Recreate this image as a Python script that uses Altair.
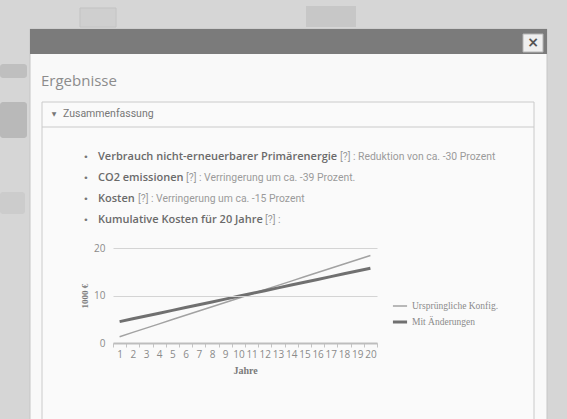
import altair as alt
import pandas as pd

# ---------------- data ----------------
years = ["1", "2", "3", "4", "5", "6", "7", "8", "9", "10",
         "11", "12", "13", "14", "15", "16", "17", "18", "19", "20"]
orig_costs = [1.33, 2.23, 3.13, 4.03, 4.93, 5.83, 6.73, 7.63, 8.53, 9.43,
              10.33, 11.23, 12.13, 13.03, 13.93, 14.83, 15.73, 16.63, 17.53, 18.43]
new_costs = [4.50, 5.09, 5.68, 6.28, 6.87, 7.46, 8.05, 8.64, 9.24, 9.83,
             10.42, 11.01, 11.60, 12.20, 12.79, 13.38, 13.97, 14.56, 15.16, 15.75]
series_names = ["Ursprüngliche Konfig.", "Mit Änderungen"]
y_ticks = [0, 10, 20]

bullet_bold = ["Verbrauch nicht-erneuerbarer Primärenergie", "CO2 emissionen",
               "Kosten", "Kumulative Kosten für 20 Jahre"]
bullet_rest = ["[?] : Reduktion von ca. -30 Prozent",
               "[?] : Verringerung um ca. -39 Prozent.",
               "[?] : Verringerung um ca. -15 Prozent",
               "[?] :"]
page_title = "Ergebnisse"
section_title = "Zusammenfassung"
x_title = "Jahre"
y_title = "1000 €"

df = pd.DataFrame({
    "Jahr": years * 2,
    "Wert": orig_costs + new_costs,
    "Serie": [series_names[0]] * len(years) + [series_names[1]] * len(years),
})

# ---------------- layout (page pixels) ----------------
OX, OY = 113, 248          # plot origin on the page
PW, PH = 264, 95           # plot size
W, H = 567, 419
NARROW = "Roboto, 'DejaVu Sans Condensed', sans-serif"


def rx(x):
    return x - OX


def ry(y):
    return y - OY


one = pd.DataFrame({"d": [0]})


def rect(x1, y1, x2, y2, **kw):
    return alt.Chart(one).mark_rect(**kw).encode(
        x=alt.value(rx(x1)), x2=alt.value(rx(x2)),
        y=alt.value(ry(y1)), y2=alt.value(ry(y2)))


def text(s, x, y, **kw):
    return alt.Chart(one).mark_text(text=s, **kw).encode(
        x=alt.value(rx(x)), y=alt.value(ry(y)))


deco = [
    # faint background shapes behind the dialog
    rect(0, 64, 27, 78, fill="#a8a8a8", opacity=0.5, cornerRadius=3),
    rect(0, 102, 27, 138, fill="#9c9c9c", opacity=0.5, cornerRadius=3),
    rect(0, 192, 25, 214, fill="#c4c4c4", opacity=0.6, cornerRadius=3),
    rect(80, 8, 116, 27, fill="#cdcdcd", stroke="#bcbcbc", opacity=0.7),
    rect(306, 6, 356, 27, fill="#bdbdbd", opacity=0.6),
    # dialog body
    rect(30, 29, 547, 440, fill="#f9f9f9", stroke="#c6c6c6", strokeWidth=1),
    # header bar
    rect(30, 29, 547, 54, fill="#7b7b7b"),
    # close button
    rect(523, 34, 543, 52, fill="#efefef", stroke="#b5b5b5", strokeWidth=1),
    text("×", 533, 43, font="DejaVu Sans", fontSize=14, fontWeight="bold",
         color="#555555", align="center", baseline="middle"),
    # page title
    text(page_title, 41, 86, font="Open Sans", fontSize=15, color="#8c8c8c",
         align="left", baseline="alphabetic"),
    # panel
    rect(42, 102, 534, 440, fill="#fafafa", stroke="#cacaca", strokeWidth=1),
    alt.Chart(one).mark_rule(color="#cacaca", strokeWidth=1).encode(
        x=alt.value(rx(42)), x2=alt.value(rx(534)),
        y=alt.value(ry(127)), y2=alt.value(ry(127))),
    text("▼", 54, 114, font="DejaVu Sans", fontSize=6, color="#777777",
         align="center", baseline="middle"),
    text(section_title, 63, 114, font=NARROW, fontSize=10.5,
         color="#777777", align="left", baseline="middle"),
]

bullet_y = [157, 178, 199, 220]
rest_x = [340, 186, 138, 265]
for i in range(len(bullet_bold)):
    deco.append(text("•", 86, bullet_y[i], font="DejaVu Sans", fontSize=9,
                     color="#777777", align="center", baseline="middle"))
    deco.append(text(bullet_bold[i], 98, bullet_y[i], font="Open Sans",
                     fontSize=11, fontWeight=600, color="#6a6a6a",
                     align="left", baseline="middle"))
    deco.append(text(bullet_rest[i], rest_x[i], bullet_y[i],
                     font=NARROW, fontSize=10.4,
                     color="#9a9a9a", align="left", baseline="middle"))

legend = alt.Legend(
    orient="none", legendX=rx(391), legendY=ry(298), title=None,
    symbolType="stroke", symbolSize=200, labelFont="Liberation Serif",
    labelFontSize=9.5, labelColor="#8a8a8a", rowPadding=2, labelOffset=3,
)

lines = alt.Chart(df).mark_line().encode(
    x=alt.X("Jahr:O", sort=years, title=x_title,
            scale=alt.Scale(type="band", paddingInner=0, paddingOuter=0),
            axis=alt.Axis(labelAngle=0, tickBand="extent", labelOverlap=False,
                          domainColor="#bdbdbd", domainWidth=2,
                          tickColor="#c4c4c4", tickSize=4, labelPadding=2,
                          labelFont="Open Sans", labelFontSize=10,
                          labelColor="#8a8a8a", titleFont="Liberation Serif",
                          titleFontSize=10, titleFontWeight="bold",
                          titleColor="#7a7a7a", titlePadding=6, zindex=1)),
    y=alt.Y("Wert:Q", title=y_title,
            scale=alt.Scale(domain=[0, 20], nice=False),
            axis=alt.Axis(values=y_ticks, domain=False, ticks=False,
                          gridColor="#d4d4d4", labelPadding=8,
                          labelFont="Open Sans", labelFontSize=10,
                          labelColor="#8a8a8a", titleFont="Liberation Serif",
                          titleFontSize=9, titleFontWeight="bold",
                          titleColor="#7a7a7a", titlePadding=4, zindex=1)),
    color=alt.Color("Serie:N", sort=series_names,
                    scale=alt.Scale(domain=series_names,
                                    range=["#a2a2a2", "#707070"]),
                    legend=legend),
    strokeWidth=alt.StrokeWidth("Serie:N", sort=series_names,
                                scale=alt.Scale(domain=series_names,
                                                range=[1.5, 3]),
                                legend=legend),
)

chart = alt.layer(*deco, lines).properties(
    width=PW, height=PH,
    autosize=alt.AutoSizeParams(type="none"),
    padding={"left": OX, "top": OY, "right": W - OX - PW, "bottom": H - OY - PH},
).configure(background="#d6d6d6").configure_view(stroke=None)

chart.save("out.html", embed_options={"renderer": "svg", "actions": False})
